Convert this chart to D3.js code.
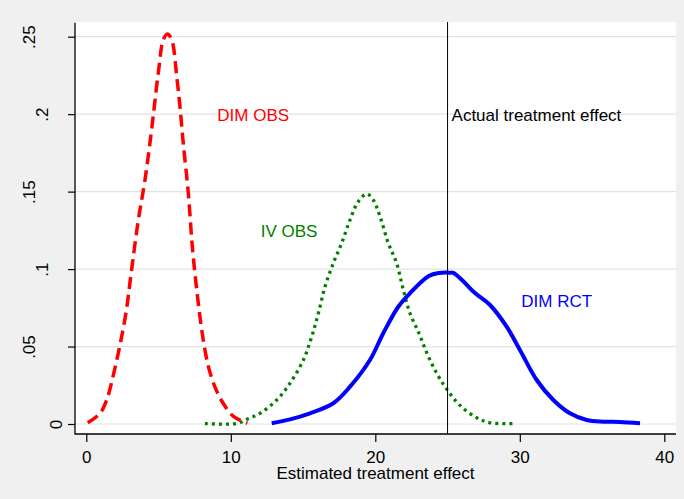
<!DOCTYPE html>
<html>
<head>
<meta charset="utf-8">
<script src="https://cdn.jsdelivr.net/npm/d3@7"></script>
<style>
  html, body { margin: 0; padding: 0; background: #f0f0f0; }
  svg { display: block; }
  text { font-family: "Liberation Sans", Arial, sans-serif; }
</style>
</head>
<body>
<svg id="chart" width="684" height="499"></svg>
<script>
// ---- data ----
const xTicks = [0, 10, 20, 30, 40];
const yTicks = [0, 0.05, 0.1, 0.15, 0.2, 0.25];
const yTickLabels = ["0", ".05", ".1", ".15", ".2", ".25"];
const xTitle = "Estimated treatment effect";
const actualEffect = 25;

const dimObsX = [0.1, 0.95, 1.41, 1.87, 2.33, 2.75, 3.1, 3.6, 4.06, 4.52, 4.98, 5.33, 5.61, 5.91, 6.26, 6.48, 6.71, 7.06, 7.35, 7.70, 8.05, 8.45, 8.9, 9.4, 10.17, 11.15];
const dimObsY = [0.0008, 0.0069, 0.0155, 0.0315, 0.051, 0.072, 0.097, 0.1317, 0.1575, 0.19, 0.2264, 0.248, 0.2518, 0.248, 0.2242, 0.2049, 0.1812, 0.149, 0.113, 0.082, 0.057, 0.037, 0.024, 0.0145, 0.005, 0.0005];

const ivObsX = [8.21, 10.4, 11.1, 12.02, 13.18, 14.1, 15.02, 15.6, 16.06, 16.52, 17.09, 17.67, 18.25, 18.82, 19.4, 19.86, 20.33, 20.9, 21.48, 21.94, 22.4, 23.0, 23.56, 24.25, 24.94, 25.86, 27.02, 27.94, 29.67];
const ivObsY = [0.0003, 0.0003, 0.003, 0.0069, 0.0155, 0.0263, 0.0413, 0.0564, 0.0715, 0.0886, 0.1037, 0.1167, 0.1317, 0.1435, 0.1485, 0.1446, 0.1338, 0.1167, 0.1037, 0.0865, 0.0715, 0.059, 0.046, 0.0327, 0.0225, 0.012, 0.004, 0.0008, 0.0003];

const dimRctX = [12.83, 14.1, 15.48, 17.09, 18.25, 19.63, 20.55, 21.59, 22.4, 23.7, 24.4, 25.17, 25.4, 26.1, 26.9, 27.94, 29.09, 30.01, 31.17, 32.32, 33.47, 34.63, 35.78, 36.93, 38.32];
const dimRctY = [0.0005, 0.003, 0.0069, 0.0134, 0.0241, 0.0413, 0.0586, 0.0757, 0.0844, 0.0955, 0.0975, 0.0977, 0.0975, 0.092, 0.0845, 0.0768, 0.0628, 0.0478, 0.0284, 0.0155, 0.0069, 0.0026, 0.0015, 0.0013, 0.0005];

const labels = [
  { text: "DIM OBS", x: 9, y: 0.2, color: "#ff0000", dx: 1 },
  { text: "Actual treatment effect", x: 25, y: 0.2, color: "#000000", dx: 4 },
  { text: "IV OBS", x: 12, y: 0.125, color: "#008000", dx: 1 },
  { text: "DIM RCT", x: 30, y: 0.08, color: "#0000ff", dx: 1.5 }
];

// ---- layout ----
const W = 684, H = 499;
const plot = { left: 75, right: 676, top: 22, bottom: 434 };
const fontSize = 17;

const svg = d3.select("#chart");
svg.append("rect").attr("width", W).attr("height", H).attr("fill", "#f0f0f0");
svg.append("rect")
  .attr("x", plot.left).attr("y", plot.top)
  .attr("width", plot.right - plot.left).attr("height", plot.bottom - plot.top)
  .attr("fill", "#ffffff");

const x = d3.scaleLinear().domain([0, 40]).range([86.3, 664.3]);
const y = d3.scaleLinear().domain([0, 0.25]).range([424, 36.7]);

// gridlines
svg.append("g").selectAll("line").data(yTicks).join("line")
  .attr("x1", plot.left).attr("x2", plot.right)
  .attr("y1", d => y(d)).attr("y2", d => y(d))
  .attr("stroke", "#e3e3e3").attr("stroke-width", 1.2);

// curves
const line = d3.line().x(d => x(d[0])).y(d => y(d[1])).curve(d3.curveCatmullRom.alpha(0.5));
const zip = (a, b) => a.map((v, i) => [v, b[i]]);

svg.append("path").datum(zip(ivObsX, ivObsY))
  .attr("d", line).attr("fill", "none")
  .attr("stroke", "#008000").attr("stroke-width", 3.3)
  .attr("stroke-dasharray", "3,4");

svg.append("path").datum(zip(dimRctX, dimRctY))
  .attr("d", line).attr("fill", "none")
  .attr("stroke", "#0000ff").attr("stroke-width", 4)
  .attr("stroke-linejoin", "round");

svg.append("path").datum(zip(dimObsX, dimObsY))
  .attr("d", line).attr("fill", "none")
  .attr("stroke", "#ff0000").attr("stroke-width", 3.5)
  .attr("stroke-dasharray", "12,6");

// actual effect line
svg.append("line")
  .attr("x1", x(actualEffect)).attr("x2", x(actualEffect))
  .attr("y1", plot.top).attr("y2", plot.bottom)
  .attr("stroke", "#000").attr("stroke-width", 1);

// annotations
svg.append("g").selectAll("text").data(labels).join("text")
  .attr("x", d => x(d.x) + d.dx)
  .attr("y", d => y(d.y) + 7)
  .attr("fill", d => d.color)
  .attr("font-size", fontSize)
  .text(d => d.text);

// x axis
const xAxis = svg.append("g")
  .attr("transform", `translate(0,${plot.bottom})`)
  .call(d3.axisBottom(x).tickValues(xTicks).tickSize(8).tickFormat(d3.format("d")));
xAxis.select(".domain").remove();
xAxis.selectAll(".tick line").attr("stroke", "#000").attr("stroke-width", 1.2);
xAxis.selectAll(".tick text")
  .attr("y", 29.3).attr("dy", 0)
  .attr("font-size", fontSize).attr("fill", "#000")
  .attr("font-family", "'Liberation Sans', Arial, sans-serif");

// y axis
const yAxis = svg.append("g")
  .attr("transform", `translate(${plot.left},0)`)
  .call(d3.axisLeft(y).tickValues(yTicks).tickSize(7).tickFormat((d, i) => yTickLabels[i]));
yAxis.select(".domain").remove();
yAxis.selectAll(".tick line").attr("stroke", "#000").attr("stroke-width", 1.2);
yAxis.selectAll(".tick text")
  .attr("x", 0).attr("y", 0).attr("dy", 0)
  .attr("text-anchor", "middle")
  .attr("transform", (d, i) => `translate(${-13.3 - 13.4 * (yTickLabels[i].length - 1)},0) rotate(-90)`)
  .attr("font-size", fontSize).attr("fill", "#000")
  .attr("font-family", "'Liberation Sans', Arial, sans-serif");

// axis lines
svg.append("line")
  .attr("x1", plot.left).attr("x2", plot.left)
  .attr("y1", plot.top + 0.7).attr("y2", plot.bottom + 0.6)
  .attr("stroke", "#000").attr("stroke-width", 1.3);
svg.append("line")
  .attr("x1", plot.left).attr("x2", plot.right)
  .attr("y1", plot.bottom).attr("y2", plot.bottom)
  .attr("stroke", "#000").attr("stroke-width", 1.3);

// x title
svg.append("text")
  .attr("x", (plot.left + plot.right) / 2).attr("y", 479)
  .attr("text-anchor", "middle")
  .attr("font-size", fontSize).attr("fill", "#000")
  .text(xTitle);
</script>
</body>
</html>
